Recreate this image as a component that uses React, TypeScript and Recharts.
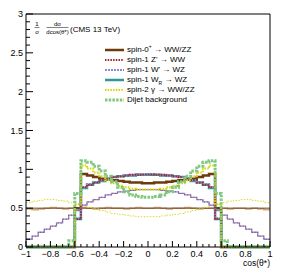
import React from 'react';
import { ComposedChart, Line, XAxis, YAxis, Legend } from 'recharts';

const binEdges = [-1, -0.95, -0.9, -0.85, -0.8, -0.75, -0.7, -0.65, -0.6, -0.55, -0.5, -0.45, -0.4, -0.35, -0.3, -0.25, -0.2, -0.15, -0.1, -0.05, 0, 0.05, 0.1, 0.15, 0.2, 0.25, 0.3, 0.35, 0.4, 0.45, 0.5, 0.55, 0.6, 0.65, 0.7, 0.75, 0.8, 0.85, 0.9, 0.95, 1];

// reconstructed-level histograms (40 bins)
const spin0Reco = [0, 0, 0, 0, 0, 0, 0, 0, 0.50, 0.94, 0.92, 0.90, 0.88, 0.87, 0.86, 0.85, 0.84, 0.83, 0.83, 0.82, 0.82, 0.83, 0.83, 0.84, 0.85, 0.86, 0.87, 0.88, 0.90, 0.92, 0.94, 0.50, 0, 0, 0, 0, 0, 0, 0, 0];
const zprimeReco = [0, 0, 0, 0, 0, 0, 0, 0, 0.36, 0.77, 0.80, 0.83, 0.86, 0.88, 0.90, 0.91, 0.92, 0.93, 0.93, 0.935, 0.935, 0.93, 0.93, 0.92, 0.91, 0.90, 0.88, 0.86, 0.83, 0.80, 0.77, 0.36, 0, 0, 0, 0, 0, 0, 0, 0];
const wprimeReco = [0, 0, 0, 0, 0, 0, 0, 0, 0.37, 0.77, 0.81, 0.83, 0.86, 0.89, 0.90, 0.91, 0.92, 0.93, 0.94, 0.93, 0.94, 0.93, 0.93, 0.92, 0.91, 0.90, 0.89, 0.86, 0.83, 0.81, 0.77, 0.37, 0, 0, 0, 0, 0, 0, 0, 0];
const wrReco = [0, 0, 0, 0, 0, 0, 0, 0, 0.36, 0.76, 0.80, 0.83, 0.85, 0.88, 0.90, 0.91, 0.92, 0.92, 0.93, 0.93, 0.93, 0.93, 0.92, 0.92, 0.91, 0.90, 0.88, 0.85, 0.83, 0.80, 0.76, 0.36, 0, 0, 0, 0, 0, 0, 0, 0];
const spin2Reco = [0, 0, 0, 0, 0, 0, 0, 0, 0.55, 1.05, 1.01, 0.96, 0.91, 0.86, 0.82, 0.79, 0.77, 0.75, 0.74, 0.74, 0.74, 0.74, 0.75, 0.77, 0.79, 0.82, 0.86, 0.91, 0.96, 1.01, 1.05, 0.55, 0, 0, 0, 0, 0, 0, 0, 0];
const dijetReco = [0, 0, 0, 0, 0, 0, 0, 0.08, 0.69, 1.11, 1.09, 1.04, 0.98, 0.91, 0.84, 0.77, 0.71, 0.67, 0.65, 0.64, 0.64, 0.65, 0.67, 0.71, 0.77, 0.84, 0.91, 0.98, 1.04, 1.09, 1.11, 0.69, 0.08, 0, 0, 0, 0, 0, 0, 0];

// generator-level histograms (40 bins)
const spin1Gen = [0.10, 0.14, 0.19, 0.23, 0.27, 0.31, 0.36, 0.41, 0.47, 0.54, 0.58, 0.61, 0.64, 0.67, 0.69, 0.71, 0.72, 0.73, 0.74, 0.74, 0.74, 0.74, 0.73, 0.72, 0.71, 0.69, 0.67, 0.64, 0.61, 0.58, 0.54, 0.47, 0.41, 0.36, 0.31, 0.27, 0.23, 0.19, 0.14, 0.10];
const spin0Gen = [0.49, 0.48, 0.49, 0.50, 0.51, 0.50, 0.49, 0.50, 0.50, 0.51, 0.50, 0.49, 0.50, 0.51, 0.50, 0.50, 0.49, 0.50, 0.51, 0.50, 0.50, 0.51, 0.50, 0.49, 0.50, 0.50, 0.51, 0.50, 0.49, 0.50, 0.50, 0.51, 0.50, 0.49, 0.50, 0.50, 0.49, 0.50, 0.49, 0.48];
const spin0Flat = [0.5, 0.5];
const spin2Gen = [0.57, 0.59, 0.60, 0.61, 0.61, 0.60, 0.59, 0.57, 0.55, 0.53, 0.51, 0.49, 0.47, 0.45, 0.43, 0.42, 0.41, 0.40, 0.39, 0.39, 0.39, 0.39, 0.40, 0.41, 0.42, 0.43, 0.45, 0.47, 0.49, 0.51, 0.53, 0.55, 0.57, 0.59, 0.60, 0.61, 0.61, 0.60, 0.59, 0.57];

const xTicks = [-1, -0.95, -0.9, -0.85, -0.8, -0.75, -0.7, -0.65, -0.6, -0.55, -0.5, -0.45, -0.4, -0.35, -0.3, -0.25, -0.2, -0.15, -0.1, -0.05, 0, 0.05, 0.1, 0.15, 0.2, 0.25, 0.3, 0.35, 0.4, 0.45, 0.5, 0.55, 0.6, 0.65, 0.7, 0.75, 0.8, 0.85, 0.9, 0.95, 1];
const xMajorLabels: Record<string, string> = { '-1': '\u22121', '-0.8': '\u22120.8', '-0.6': '\u22120.6', '-0.4': '\u22120.4', '-0.2': '\u22120.2', '0': '0', '0.2': '0.2', '0.4': '0.4', '0.6': '0.6', '0.8': '0.8', '1': '1' };
const yTicks = [0, 0.1, 0.2, 0.3, 0.4, 0.5, 0.6, 0.7, 0.8, 0.9, 1, 1.1, 1.2, 1.3, 1.4, 1.5, 1.6, 1.7, 1.8, 1.9, 2, 2.1, 2.2, 2.3, 2.4, 2.5, 2.6, 2.7, 2.8, 2.9, 3];
const yMajorLabels: Record<string, string> = { '0': '0', '0.5': '0.5', '1': '1', '1.5': '1.5', '2': '2', '2.5': '2.5', '3': '3' };

const legendEntries = [
  { pre: 'spin-0', sup: '+', sub: '', post: ' \u2192 WW/ZZ', stroke: '#6e3a0c', width: 2.5, dash: '' },
  { pre: "spin-1 Z'", sup: '', sub: '', post: ' \u2192 WW', stroke: '#a8262c', width: 1.8, dash: '1.5 1.2' },
  { pre: "spin-1 W'", sup: '', sub: '', post: ' \u2192 WZ', stroke: '#8a8ad6', width: 2, dash: '2 1' },
  { pre: 'spin-1 W', sup: '', sub: 'R', post: ' \u2192 WZ', stroke: '#2b9a96', width: 2.5, dash: '' },
  { pre: 'spin-2 \u03b3', sup: '', sub: '', post: ' \u2192 WW/ZZ', stroke: '#d8d800', width: 2, dash: '1.5 1.2' },
  { pre: 'Dijet background', sup: '', sub: '', post: '', stroke: '#80c880', width: 3, dash: '2.5 1.2' },
];

const FONT = '"Liberation Sans", Arial, Helvetica, sans-serif';

const toSteps = (vals: number[]) => {
  const pts = vals.map((v, i) => ({ x: binEdges[i], y: v }));
  pts.push({ x: binEdges[binEdges.length - 1], y: vals[vals.length - 1] });
  return pts;
};
const flatData = [{ x: binEdges[0], y: spin0Flat[0] }, { x: binEdges[binEdges.length - 1], y: spin0Flat[1] }];

const keyOf = (v: number) => String(Math.round(v * 100) / 100);

const XTickBottom = (props: any) => {
  const { x, y, payload } = props;
  const lab = xMajorLabels[keyOf(payload.value)];
  const major = lab !== undefined;
  return (
    <g>
      <line x1={x} x2={x} y1={y} y2={y - (major ? 6 : 3)} stroke="#000" strokeWidth={1} />
      {major && (
        <text x={x} y={y + 10} textAnchor="middle" fontSize={9} fontFamily={FONT} fill="#000">{lab}</text>
      )}
    </g>
  );
};
const XTickTop = (props: any) => {
  const { x, y, payload } = props;
  const major = xMajorLabels[keyOf(payload.value)] !== undefined;
  return <line x1={x} x2={x} y1={y} y2={y + (major ? 6 : 3)} stroke="#000" strokeWidth={1} />;
};
const YTickLeft = (props: any) => {
  const { x, y, payload } = props;
  const lab = yMajorLabels[keyOf(payload.value)];
  const major = lab !== undefined;
  return (
    <g>
      <line x1={x} x2={x + (major ? 7 : 4)} y1={y} y2={y} stroke="#000" strokeWidth={1} />
      {major && (
        <text x={x - 3} y={y + 3.2} textAnchor="end" fontSize={9} fontFamily={FONT} fill="#000">{lab}</text>
      )}
    </g>
  );
};
const YTickRight = (props: any) => {
  const { x, y, payload } = props;
  const major = yMajorLabels[keyOf(payload.value)] !== undefined;
  return <line x1={x} x2={x - (major ? 7 : 4)} y1={y} y2={y} stroke="#000" strokeWidth={1} />;
};

const renderYTitle = () => (
  <g fontFamily={FONT} fill="#000">
    <text x={37} y={26} fontSize={6} textAnchor="middle">1</text>
    <line x1={34.5} x2={39.5} y1={27.5} y2={27.5} stroke="#000" strokeWidth={0.5} />
    <text x={37} y={34} fontSize={6} textAnchor="middle">σ</text>
    <text x={57.5} y={26} fontSize={6} textAnchor="middle">dσ</text>
    <line x1={46.5} x2={68.5} y1={27.5} y2={27.5} stroke="#000" strokeWidth={0.5} />
    <text x={57.5} y={34} fontSize={6} textAnchor="middle">dcos(θ*)</text>
    <text x={70} y={32} fontSize={8}>(CMS 13 TeV)</text>
  </g>
);
const renderXTitle = () => (
  <text x={270} y={266} fontSize={8.5} textAnchor="end" fontFamily={FONT} fill="#000">cos(θ*)</text>
);

const renderLegend = () => (
  <div style={{ fontFamily: FONT, fontSize: 8, color: '#000' }}>
    {legendEntries.map((e, i) => (
      <div key={i} style={{ height: 10, display: 'flex', alignItems: 'center', whiteSpace: 'nowrap' }}>
        <svg width={21} height={10} style={{ display: 'block' }}>
          <line x1={1} x2={20} y1={5} y2={5} stroke={e.stroke} strokeWidth={e.width} strokeDasharray={e.dash || undefined} />
        </svg>
        <span style={{ marginLeft: 2, lineHeight: '10px' }}>
          {e.pre}
          {e.sup && <span style={{ fontSize: 5, verticalAlign: 'super', lineHeight: 0 }}>{e.sup}</span>}
          {e.sub && <span style={{ fontSize: 5, verticalAlign: 'sub', lineHeight: 0 }}>{e.sub}</span>}
          {e.post}
        </span>
      </div>
    ))}
  </div>
);

const common = { dataKey: 'y', type: 'stepAfter' as const, dot: false, activeDot: false, isAnimationActive: false, legendType: 'none' as const };

export default function App() {
  return (
    <div style={{ position: 'absolute', left: 0, top: 0, background: '#fff' }}>
      <ComposedChart width={284} height={275} margin={{ top: 0, right: 0, bottom: 0, left: 0 }}>
        <XAxis xAxisId="b" dataKey="x" type="number" domain={[-1, 1]} ticks={xTicks} interval={0} tickSize={0} tickMargin={0}
          tick={<XTickBottom />} tickLine={false} axisLine={{ stroke: '#000' }} height={28} orientation="bottom" label={renderXTitle} />
        <XAxis xAxisId="t" dataKey="x" type="number" domain={[-1, 1]} ticks={xTicks} interval={0} tickSize={0} tickMargin={0}
          tick={<XTickTop />} tickLine={false} axisLine={{ stroke: '#000' }} height={14} orientation="top" />
        <YAxis yAxisId="l" type="number" domain={[0, 3]} ticks={yTicks} interval={0} tickSize={0} tickMargin={0}
          tick={<YTickLeft />} tickLine={false} axisLine={{ stroke: '#000' }} width={26} orientation="left" label={renderYTitle} />
        <YAxis yAxisId="r" type="number" domain={[0, 3]} ticks={yTicks} interval={0} tickSize={0} tickMargin={0}
          tick={<YTickRight />} tickLine={false} axisLine={{ stroke: '#000' }} width={14} orientation="right" />

        <Line {...common} xAxisId="b" yAxisId="l" data={toSteps(spin0Gen)} stroke="#c8aa88" strokeWidth={1.5} />
        <Line {...common} xAxisId="b" yAxisId="l" data={flatData} type="linear" stroke="#7a3f10" strokeWidth={1} />
        <Line {...common} xAxisId="b" yAxisId="l" data={toSteps(spin2Gen)} stroke="#dada20" strokeWidth={1} strokeDasharray="1.5 1.5" />
        <Line {...common} xAxisId="b" yAxisId="l" data={toSteps(spin1Gen)} stroke="#8a8ad6" strokeWidth={1.3} />
        <Line {...common} xAxisId="b" yAxisId="l" data={toSteps(spin1Gen)} stroke="#b04040" strokeWidth={1} strokeDasharray="1 2" />

        <Line {...common} xAxisId="b" yAxisId="l" data={toSteps(spin0Reco)} stroke="#6e3a0c" strokeWidth={2.5} />
        <Line {...common} xAxisId="b" yAxisId="l" data={toSteps(wrReco)} stroke="#2b9a96" strokeWidth={2.5} />
        <Line {...common} xAxisId="b" yAxisId="l" data={toSteps(wprimeReco)} stroke="#8a8ad6" strokeWidth={2} strokeDasharray="2 1" />
        <Line {...common} xAxisId="b" yAxisId="l" data={toSteps(zprimeReco)} stroke="#a8262c" strokeWidth={1.8} strokeDasharray="1.5 1.2" />
        <Line {...common} xAxisId="b" yAxisId="l" data={toSteps(spin2Reco)} stroke="#d8d800" strokeWidth={2} strokeDasharray="1.5 1.2" />
        <Line {...common} xAxisId="b" yAxisId="l" data={toSteps(dijetReco)} stroke="#80c880" strokeWidth={3} strokeDasharray="2.5 1.2" />

        <Legend layout="vertical" align="center" verticalAlign="middle" content={renderLegend}
          wrapperStyle={{ position: 'absolute', left: 104, top: 45, width: 'auto', height: 'auto' }} />
      </ComposedChart>
    </div>
  );
}
